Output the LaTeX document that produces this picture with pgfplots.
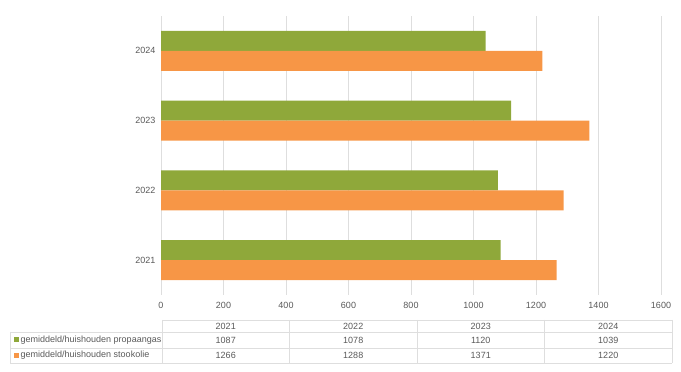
\documentclass[border=0pt]{standalone}
\usepackage{pgfplots}
\pgfplotsset{compat=1.18}
\usepackage{fontspec}
\setmainfont{Liberation Sans}
\definecolor{cgreen}{RGB}{143,168,58}
\definecolor{corange}{RGB}{247,150,70}
\definecolor{cgrid}{RGB}{222,222,222}
\definecolor{ctext}{RGB}{89,89,89}
\begin{document}
\begin{tikzpicture}[x=1pt,y=1pt]
\path (0,0) rectangle (681,372);
\begin{axis}[
  at={(161pt,77pt)}, anchor=south west,
  scale only axis, width=500pt, height=279pt,
  xbar, bar width=20pt,
  xmin=0, xmax=1600, xtick distance=200,
  ymin=-0.5, ymax=3.5,
  ytick={0,1,2,3}, yticklabels={2021,2022,2023,2024},
  xmajorgrids, grid style={cgrid, line width=0.7pt},
  axis line style={draw=none},
  major tick length=0pt,
  ticklabel style={font=\fontsize{9}{10}\selectfont, text=ctext},
  /pgf/number format/assume math mode=true,
  /pgf/number format/1000 sep={},
  xticklabel style={yshift=-4pt},
  yticklabel style={xshift=-2pt},
]
\addplot[fill=cgreen, draw=none, bar shift=10pt] coordinates {(1087,0) (1078,1) (1120,2) (1039,3)};
\addplot[fill=corange, draw=none, bar shift=-10pt] coordinates {(1266,0) (1288,1) (1371,2) (1220,3)};
\end{axis}
% data table
\begin{scope}[cgrid, line width=0.7pt]
\draw (162,52) -- (672,52);
\draw (10,40) -- (672,40);
\draw (10,24) -- (672,24);
\draw (10,9) -- (672,9);
\draw (10,40) -- (10,9);
\foreach \xx in {162,289.5,417,544.5,672} \draw (\xx,52) -- (\xx,9);
\end{scope}
\begin{scope}[font=\fontsize{9}{10}\selectfont, text=ctext]
\foreach \xx/\t in {225.75/2021,353.25/2022,480.75/2023,608.25/2024} \node at (\xx,45.5) {\t};
\foreach \xx/\t in {225.75/1087,353.25/1078,480.75/1120,608.25/1039} \node at (\xx,32) {\t};
\foreach \xx/\t in {225.75/1266,353.25/1288,480.75/1371,608.25/1220} \node at (\xx,16.5) {\t};
\fill[cgreen] (14,30) rectangle (18.5,34.5);
\fill[corange] (14,14.25) rectangle (18.5,18.75);
\node[anchor=west, inner sep=0pt] at (20.5,32) {gemiddeld/huishouden propaangas};
\node[anchor=west, inner sep=0pt] at (20.5,16.5) {gemiddeld/huishouden stookolie};
\end{scope}
\end{tikzpicture}
\end{document}
